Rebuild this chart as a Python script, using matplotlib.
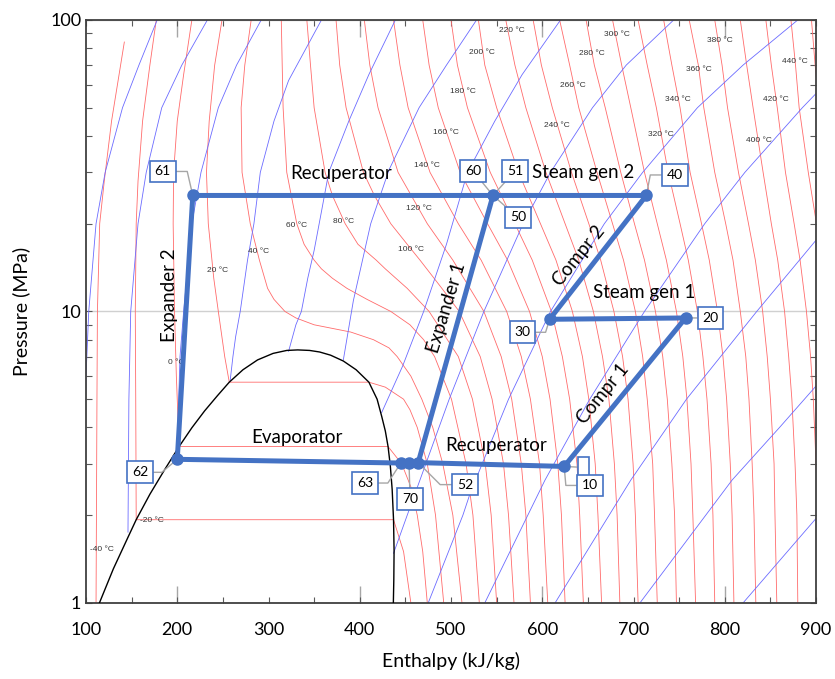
import numpy as np
import matplotlib
matplotlib.use('Agg')
import matplotlib.pyplot as plt
from matplotlib.ticker import MultipleLocator, FixedLocator, FixedFormatter, NullFormatter

# ---- saturation dome (h kJ/kg, P MPa) ----
dome_h = [114.7, 130, 146, 155, 170, 186, 202, 216, 230, 244, 257, 272, 288, 305, 320, 332,
          345, 356, 368, 382, 396, 410, 419, 424, 428, 431, 433.5, 435.5, 437, 437.6, 437.3, 436.8]
dome_p = [1.0, 1.31, 1.68, 1.93, 2.36, 2.86, 3.44, 3.99, 4.56, 5.14, 5.72, 6.31, 6.82, 7.18, 7.35, 7.38,
          7.35, 7.26, 7.08, 6.76, 6.31, 5.72, 5.0, 4.37, 3.89, 3.44, 2.95, 2.45, 1.93, 1.51, 1.2, 1.0]

# ---- isotherms (every 20 degC) ----
tm40_h = [142, 128, 120, 115, 112.5, 112, 111]
tm40_p = [84, 45, 28, 20, 10, 5, 1.0]
tm20_h = [177, 170, 162, 157, 155, 154, 154.5, 155, 437, 448, 456]
tm20_p = [100, 70, 45, 28, 20, 10, 5, 1.93, 1.93, 1.5, 1]
t0_h = [216, 207, 200, 196, 195.5, 197, 199, 202, 431, 446, 456, 463, 469, 474]
t0_p = [100, 65, 45, 30, 20, 10, 6, 3.44, 3.44, 3, 2.5, 2, 1.5, 1]
t20_h = [249, 241, 235, 232, 234, 240, 245, 252, 257, 410, 428, 448, 455, 463, 474, 483, 492]
t20_p = [100, 70, 45, 30, 20, 13, 10, 7, 5.72, 5.72, 5.5, 5, 4.6, 4, 3, 2, 1]
t40_h = [512, 502, 491, 480, 468, 456, 441, 432, 415, 390, 350, 330, 318, 306, 299, 290, 280, 271, 270, 274, 281]
t40_p = [1, 2, 3, 4, 5, 6, 7, 7.5, 8, 8.5, 9, 9.5, 10, 11, 12, 15, 20, 30, 50, 70, 100]
t60_h = [531, 524, 516.5, 500.5, 482, 470, 455, 434, 408, 386, 370, 358, 350, 339, 331, 320, 316, 315, 314]
t60_p = [1, 2, 3, 5, 7, 8, 9, 10, 11, 12, 13, 14, 15, 17, 20, 30, 50, 70, 100]
t80_h = [550, 544, 537.5, 523.5, 508, 476, 452, 428, 418, 398, 384, 370, 362, 350, 346, 342]
t80_p = [1, 2, 3, 5, 7, 10, 12, 14, 15, 17, 20, 25, 30, 50, 70, 100]
t100_h = [569, 563, 557.5, 545, 532, 509, 490, 466, 452, 434, 416, 404, 385, 378, 374]
t100_p = [1, 2, 3, 5, 7, 10, 12, 15, 17, 20, 25, 30, 50, 70, 100]

# hotter isotherms on a common pressure grid
hot_p = [1, 2, 3, 5, 7, 10, 15, 20, 30, 50, 70, 100]
hot_T = [120, 140, 160, 180, 200, 220, 240, 260, 280, 300, 320, 340, 360, 380, 400, 420, 440, 460]
hot_h = [
    [587, 582, 577, 566.5, 555, 536, 502, 474, 442, 420, 411, 405],
    [606, 601, 597, 587, 577, 561, 533, 508, 477, 453, 444, 437],
    [625, 621, 617, 608.5, 600, 586, 562, 540, 510, 486, 476, 469],
    [645, 641, 638, 630, 622, 610, 589, 570, 543, 518, 507, 500],
    [665, 661, 658, 651, 644, 633, 615, 598, 574, 550, 537, 530],
    [685, 682, 679, 673, 666, 656, 640, 625, 604, 582, 570, 560],
    [705, 702, 699.5, 694, 688, 678.5, 664, 651, 632, 611, 599, 590],
    [726, 723, 721, 715, 710, 702, 689, 677, 660, 640, 630, 619],
    [747, 745, 742, 737, 732, 724, 712, 701, 686, 669, 657, 648],
    [768, 765, 763, 758.5, 754, 747, 736, 726, 712, 697, 687, 677],
    [789, 787, 785, 780.5, 776, 770, 760, 751, 738, 725, 715, 705],
    [810, 808, 806, 802, 798, 792, 783, 774.5, 762, 751, 742, 733],
    [834, 832, 830, 826.5, 823, 817, 809, 801, 789, 777, 771, 761],
    [857, 855, 854, 850, 846.5, 841.5, 833.5, 826, 815, 803, 797, 789],
    [880, 879, 877, 873.5, 870, 865.5, 858, 851, 842, 831, 824, 817],
    [903, 902, 900, 897, 894, 889.5, 882.5, 876, 866.5, 857.5, 851, 845],
    [926, 924.5, 923, 920, 917, 913, 906.5, 900.5, 891.5, 881.5, 877.5, 872.5],
    [946, 944, 943, 940, 937, 933, 927, 921.5, 913, 903.5, 899, 895],
]

# ---- isentropes (every 0.2 kJ/kgK) ----
s06_h = [96, 98, 100, 103, 111, 121, 140, 158, 178]
s06_p = [1, 3, 6, 10, 20, 30, 50, 70, 100]
s08_h = [146, 147, 149, 157, 166, 183, 205, 233]
s08_p = [1.75, 5, 10, 20, 30, 50, 70, 100]
s10_h = [200, 203, 207, 216, 226, 245, 265, 292]
s10_p = [3.44, 7, 10, 20, 30, 50, 70, 100]
s12_h = [258, 261, 264, 269, 277, 284, 291, 306, 322, 358]
s12_p = [5.8, 7, 8.2, 10, 15, 20, 30, 45, 62, 100]
s14_h = [322, 330, 336, 343, 350, 358, 366, 388, 410, 439]
s14_p = [7.3, 9, 10, 13, 16.2, 22, 30, 45, 65, 100]
s16_h = [382, 393, 412, 432, 465, 495, 528]
s16_p = [6.82, 10.9, 20, 30.6, 50, 70, 100]
s18_h = [424, 447, 470, 495, 518, 548, 578, 620]
s18_p = [4.5, 6.5, 10, 17, 30, 45, 65, 100]
s20_h = [437, 452, 474, 498, 536, 579, 609, 655, 692, 744]
s20_p = [1.48, 2, 3.1, 5, 10, 20, 30, 50, 70, 100]
s22_h = [475, 513, 521, 563, 609, 668, 710, 770, 820, 880]
s22_p = [1.0, 2, 2.38, 5, 10, 20, 30, 50, 70, 100]
s24_h = [537, 603, 652, 712, 778, 822, 885, 930]
s24_p = [1.0, 2.64, 5, 10, 20, 30, 50, 70]
s26_h = [614, 697, 758, 835, 915]
s26_p = [1.0, 2.64, 5, 10, 20]
s28_h = [707, 808, 860, 900, 940]
s28_p = [1.0, 2.64, 4, 5.55, 8]
s30_h = [820, 900, 960]
s30_p = [1.0, 1.95, 3]

# ---- cycle state points ----
state_names = ['10', '20', '30', '40', '50', '52', '61', '62', '63', '70']
state_h = [624, 757, 608, 714, 546, 464, 217, 200, 445, 454]
state_p = [2.94, 9.5, 9.4, 25.0, 25.0, 3.03, 25.0, 3.11, 3.02, 3.02]
loop_main = ['62', '61', '50', '40', '30', '20', '10', '52', '50']
loop_evap = ['52', '70', '63', '62']

isotherm_labels = [-40, -20, 0, 20, 40, 60, 80, 100, 120, 140, 160, 180, 200, 220,
                   240, 260, 280, 300, 320, 340, 360, 380, 400, 420, 440]

# label placement (h, P) for the isotherm tags
iso_label_pos = [(117, 1.52), (172, 1.92), (199, 6.7), (244, 13.8), (289, 16.1), (331, 19.7),
                 (382, 20.4), (456, 16.3), (465, 22.6), (474, 31.8), (494, 41.2), (513, 56.8),
                 (534, 77.3), (567, 91.9), (616, 43.4), (633.5, 59.7), (654, 76.9), (682, 89.1),
                 (730, 40.5), (749, 53.4), (772, 67.4), (795, 84.7), (837, 38.7), (856.5, 53.4),
                 (877, 72.3)]

BLUE = '#4472C4'
RED = (1.0, 0.42, 0.42)
ISEN = (0.42, 0.42, 1.0)
FONT = 'Lato'

fig = plt.figure(figsize=(8.35, 6.79), dpi=100)
ax = fig.add_axes([0.103, 0.112, 0.8743, 0.8586])
ax.set_yscale('log')
ax.set_xlim(100, 900)
ax.set_ylim(1, 100)

# isotherms
for h, p in [(tm40_h, tm40_p), (tm20_h, tm20_p), (t0_h, t0_p), (t20_h, t20_p), (t40_h, t40_p),
             (t60_h, t60_p), (t80_h, t80_p), (t100_h, t100_p)]:
    ax.plot(h, p, color=RED, lw=0.6, zorder=2)
for row in hot_h:
    ax.plot(row, hot_p, color=RED, lw=0.6, zorder=2)

# isentropes
for h, p in [(s06_h, s06_p), (s08_h, s08_p), (s10_h, s10_p), (s12_h, s12_p), (s14_h, s14_p),
             (s16_h, s16_p), (s18_h, s18_p), (s20_h, s20_p), (s22_h, s22_p), (s24_h, s24_p),
             (s26_h, s26_p), (s28_h, s28_p), (s30_h, s30_p)]:
    ax.plot(h, p, color=ISEN, lw=0.6, zorder=2)

ax.plot(dome_h, dome_p, color='black', lw=1.0, zorder=3)

for T, (lh, lp) in zip(isotherm_labels, iso_label_pos):
    ax.text(lh, lp, f'{T} °C', fontsize=6, family='Liberation Sans', color='#333333',
            ha='center', va='center', zorder=3)

# cycle
idx = {n: i for i, n in enumerate(state_names)}
for path in (loop_main, loop_evap):
    ax.plot([state_h[idx[n]] for n in path], [state_p[idx[n]] for n in path],
            color=BLUE, lw=3.6, solid_capstyle='round', solid_joinstyle='round', zorder=5)
ax.plot(state_h, state_p, 'o', color=BLUE, ms=8, zorder=7)

# state boxes: (text, state, dx px, dy px, connection)
boxes = [
    ('61', '61', -30, 24, 'angle,angleA=0,angleB=103,rad=0'),
    ('60', '50', -20, 24.5, 'arc3'),
    ('51', '50', 22, 24.5, 'arc3'),
    ('50', '50', 25, -22, 'arc3'),
    ('40', '40', 28.5, 20.5, 'angle,angleA=0,angleB=79,rad=0'),
    ('20', '20', 25, 0, 'arc3'),
    ('30', '30', -27, -13, 'angle,angleA=0,angleB=73,rad=0'),
    ('\u2009', '10', 19.5, -1, 'arc3'),
    ('10', '10', 25.5, -19, 'angle,angleA=0,angleB=95,rad=0'),
    ('62', '62', -37, -13, 'angle,angleA=0,angleB=40,rad=0'),
    ('63', '63', -36, -20, 'angle,angleA=0,angleB=57,rad=0'),
    ('70', '70', 1, -36, 'arc3'),
    ('52', '52', 47, -22, 'angle,angleA=0,angleB=135,rad=0'),
]
for txt, st, dx, dy, cs in boxes:
    i = idx[st]
    ax.annotate(txt, (state_h[i], state_p[i]), xytext=(dx, dy), textcoords='offset pixels',
                ha='center', va='center', fontsize=10, family=FONT, zorder=6,
                bbox=dict(boxstyle='square,pad=0.35', fc='white', ec=BLUE, lw=1.2),
                arrowprops=dict(arrowstyle='-', color='#A6A6A6', lw=1.0, connectionstyle=cs,
                                shrinkA=0, shrinkB=0))

# process labels
stage_txt = dict(fontsize=13.5, family=FONT, ha='center', va='center', rotation_mode='anchor', zorder=6)
ax.text(380, 29.8, 'Recuperator', **stage_txt)
ax.text(645, 29.9, 'Steam gen 2', **stage_txt)
ax.text(191, 11.4, 'Expander 2', rotation=90, **stage_txt)
ax.text(494.6, 10.3, 'Expander 1', rotation=73, **stage_txt)
ax.text(639.7, 15.5, 'Compr 2', rotation=51, **stage_txt)
ax.text(711.4, 11.6, 'Steam gen 1', **stage_txt)
ax.text(666.4, 5.24, 'Compr 1', rotation=51, **stage_txt)
ax.text(331, 3.70, 'Evaporator', **stage_txt)
ax.text(549.5, 3.48, 'Recuperator', **stage_txt)

# axes cosmetics
ax.yaxis.set_major_locator(FixedLocator([1, 10, 100]))
ax.yaxis.set_major_formatter(FixedFormatter(['1', '10', '100']))
ax.yaxis.set_minor_locator(FixedLocator([2, 3, 4, 5, 6, 7, 8, 9, 20, 30, 40, 50, 60, 70, 80, 90]))
ax.yaxis.set_minor_formatter(NullFormatter())
ax.xaxis.set_major_locator(MultipleLocator(100))
ax.xaxis.set_minor_locator(MultipleLocator(50))
ax.tick_params(which='both', direction='in', top=True, right=True, length=4, width=0.8,
               color='#595959', labelsize=13)
for lab in ax.get_xticklabels() + ax.get_yticklabels():
    lab.set_family(FONT)
ax.tick_params(axis='x', pad=14)
ax.grid(True, which='major', axis='y', color='#D0D0D0', lw=1.0)
ax.set_axisbelow(True)
for sp in ax.spines.values():
    sp.set_color('#404040')
    sp.set_linewidth(1.3)

for loc in ('top', 'bottom'):
    sec = ax.secondary_xaxis(loc)
    sec.xaxis.set_major_locator(FixedLocator([200, 400, 600, 800]))
    sec.tick_params(direction='in', length=12, width=1.0, color='#A6A6A6',
                    labelbottom=False, labeltop=False)
    sec.spines[loc].set_visible(False)

ax.set_xlabel('Enthalpy (kJ/kg)', fontsize=14, family=FONT, labelpad=10)
ax.set_ylabel('Pressure (MPa)', fontsize=14, family=FONT, labelpad=14)

fig.savefig('out.png', dpi=100)
